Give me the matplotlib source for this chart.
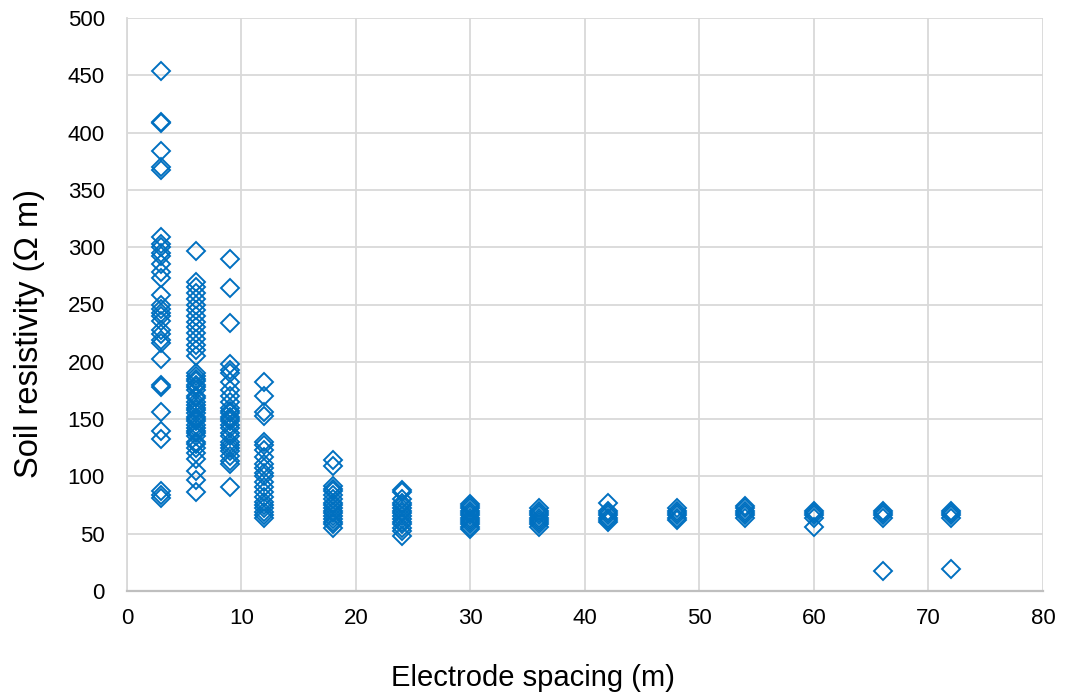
import matplotlib.pyplot as plt
import numpy as np

plt.rcParams['font.family'] = ['Liberation Sans', 'DejaVu Sans']

# resistivity readings (ohm m) grouped by electrode spacing (m)
spacing = [3, 6, 9, 12, 18, 24, 30, 36, 42, 48, 54, 60, 66, 72]
resistivity = [
    [454, 409, 408, 384, 370, 367, 309, 303, 300, 295, 292, 285, 278, 273, 258,
     250, 246, 243, 240, 236, 228, 224, 219, 216, 202, 180, 178, 156, 140, 133,
     87, 84, 81],
    [297, 270, 265, 260, 255, 250, 245, 240, 235, 230, 225, 220, 215, 210, 205,
     190, 188, 185, 183, 180, 178, 175, 170, 168, 165, 162, 160, 158, 155, 152,
     150, 148, 145, 142, 140, 138, 135, 130, 128, 125, 120, 115, 105, 97, 86],
    [290, 264, 234, 198, 193, 190, 182, 175, 170, 165, 160, 157, 155, 152, 150,
     148, 145, 142, 138, 135, 130, 127, 125, 122, 118, 113, 111, 91],
    [182, 170, 156, 153, 130, 127, 123, 117, 111, 107, 103, 100, 95, 91, 86,
     82, 78, 75, 72, 69, 66, 64],
    [114, 109, 92, 89, 87, 84, 80, 77, 75, 72, 70, 68, 65, 63, 60, 58, 55],
    [88, 86, 80, 77, 75, 72, 70, 68, 65, 63, 60, 58, 55, 52, 48],
    [76, 74, 72, 70, 68, 66, 64, 62, 60, 58, 56, 54],
    [72, 70, 68, 66, 64, 62, 60, 58, 56],
    [77, 70, 68, 66, 64, 62, 60],
    [72, 70, 68, 66, 64, 62],
    [74, 72, 70, 68, 66, 64],
    [70, 68, 66, 64, 56],
    [70, 68, 66, 64, 17],
    [70, 68, 66, 64, 19],
]

x = np.concatenate([[s] * len(r) for s, r in zip(spacing, resistivity)])
y = np.concatenate(resistivity)

fig = plt.figure(figsize=(10.67, 6.96), dpi=100)
ax = fig.add_axes([0.119, 0.151, 0.8585, 0.823])

ax.plot(x, y, linestyle='none', marker='D', markersize=9.5,
        markerfacecolor='none', markeredgecolor='#0070C0', markeredgewidth=1.4,
        zorder=3)

ax.set_xlim(0, 80)
ax.set_ylim(0, 500)
ax.set_xticks(range(0, 81, 10))
ax.set_yticks(range(0, 501, 50))
ax.grid(True, color='#D9D9D9', linewidth=1.3)
ax.set_axisbelow(True)

for side in ['top', 'right']:
    ax.spines[side].set_visible(False)
ax.spines['left'].set_color('#D9D9D9')
ax.spines['left'].set_linewidth(1.3)
ax.spines['bottom'].set_color('#BFBFBF')
ax.spines['bottom'].set_linewidth(1.6)

ax.tick_params(length=0, labelsize=16, colors='black')
ax.tick_params(axis='x', pad=12)
ax.tick_params(axis='y', pad=16)
ax.set_xlabel('Electrode spacing (m)', fontsize=21)
ax.set_ylabel('Soil resistivity (Ω m)', fontsize=23.5)
# x title sits centred under the whole figure rather than the plot area
ax.xaxis.set_label_coords(0.443, -0.127)
ax.yaxis.set_label_coords(-0.090, 0.45)

fig.savefig('out.png', dpi=100)
